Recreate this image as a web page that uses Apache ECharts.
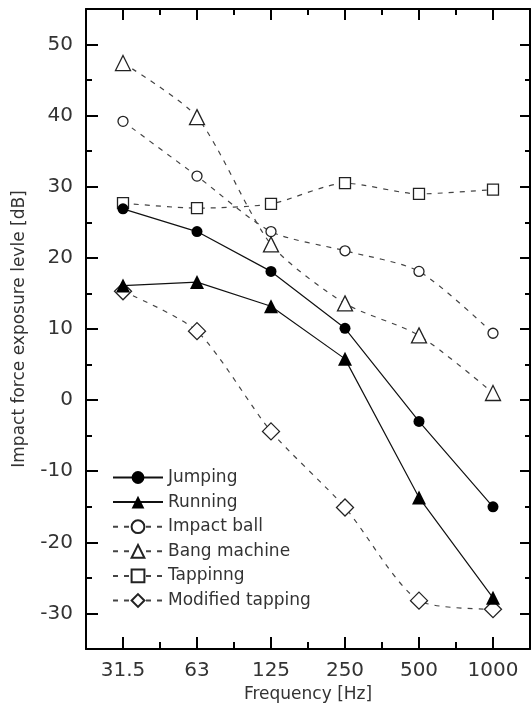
<!DOCTYPE html>
<html>
<head>
<meta charset="utf-8">
<script src="https://cdn.jsdelivr.net/npm/echarts@6/dist/echarts.min.js"></script>
<style>
  html, body { margin: 0; padding: 0; background: #fff; }
  #chart { width: 531px; height: 712px; }
</style>
</head>
<body>
<div id="chart"></div>
<script>
// values
const freqs = ['31.5', '63', '125', '250', '500', '1000'];
const jumping = [26.9, 23.7, 18.1, 10.1, -3.0, -15.0];
const running = [16.1, 16.6, 13.2, 5.8, -13.7, -27.8];
const impactBall = [39.2, 31.5, 23.7, 21.0, 18.1, 9.4];
const bangMachine = [47.4, 39.8, 21.9, 13.6, 9.1, 1.0];
const tapping = [27.7, 27.0, 27.6, 30.5, 29.0, 29.6];
const modifiedTapping = [15.3, 9.7, -4.4, -15.1, -28.2, -29.4];
const yMajor = [-30, -20, -10, 0, 10, 20, 30, 40, 50];
const yMinor = [-25, -15, -5, 5, 15, 25, 35, 45];

const font = 'DejaVu Sans';
const ink = '#000';
const txt = '#333';

let myChart = echarts.init(document.getElementById('chart'));

function xAx(pos, len, major, extra) {
  return Object.assign({
    type: 'category',
    position: pos,
    data: freqs,
    boundaryGap: true,
    axisLine: { show: major, onZero: false, lineStyle: { color: ink, width: 2 } },
    axisTick: { show: true, inside: true, length: len, alignWithLabel: major, lineStyle: { color: ink, width: 2 } },
    axisLabel: { show: false },
    splitLine: { show: false }
  }, extra || {});
}

function yAx(pos, len, ticks, major, extra) {
  return Object.assign({
    type: 'value',
    position: pos,
    min: -35,
    max: 55,
    axisLine: { show: major, onZero: false, lineStyle: { color: ink, width: 2 } },
    axisTick: { show: true, inside: true, length: len, customValues: ticks, lineStyle: { color: ink, width: 2 } },
    axisLabel: { show: false },
    splitLine: { show: false }
  }, extra || {});
}

function line(name, data, symbol, size, filled, dashed) {
  return {
    name: name,
    type: 'line',
    data: data,
    symbol: symbol,
    symbolSize: size,
    smooth: dashed ? 0.25 : false,
    showAllSymbol: true,
    lineStyle: { color: dashed ? '#444' : '#111', width: 1.2, type: dashed ? [5, 6] : 'solid' },
    itemStyle: { color: filled ? '#000' : '#fff', borderColor: '#222', borderWidth: filled ? 0 : 1.3 },
    z: filled ? 3 : 2,
    animation: false
  };
}

const option = {
  backgroundColor: '#fff',
  animation: false,
  grid: { left: 86, right: 1, top: 9, bottom: 63 },
  legend: {
    orient: 'vertical',
    left: 112,
    top: 469,
    padding: 0,
    itemWidth: 50,
    itemHeight: 16,
    itemGap: 7.6,
    textStyle: { fontFamily: font, fontSize: 17, color: txt, lineHeight: 16 },
    data: ['Jumping', 'Running', 'Impact ball', 'Bang machine', 'Tappinng', 'Modified tapping']
  },
  xAxis: [
    xAx('bottom', 12, true, {
      axisLabel: { show: true, fontFamily: font, fontSize: 20, color: txt, margin: 12 },
      name: 'Frequency [Hz]',
      nameLocation: 'middle',
      nameGap: 33,
      nameTextStyle: { fontFamily: font, fontSize: 17, color: txt }
    }),
    xAx('bottom', 7, false),
    xAx('top', 11, true),
    xAx('top', 6, false)
  ],
  yAxis: [
    yAx('left', 12, yMajor, true, {
      axisLabel: { show: true, customValues: yMajor, fontFamily: font, fontSize: 20, color: txt, margin: 13 },
      name: 'Impact force exposure levle [dB]',
      nameLocation: 'middle',
      nameGap: 58,
      nameTextStyle: { fontFamily: font, fontSize: 17, color: txt }
    }),
    yAx('left', 6, yMinor, false),
    yAx('right', 10, yMajor, true),
    yAx('right', 5, yMinor, false)
  ],
  series: [
    line('Jumping', jumping, 'circle', 11, true, false),
    line('Running', running, 'triangle', 14, true, false),
    line('Impact ball', impactBall, 'circle', 10, false, true),
    line('Bang machine', bangMachine, 'triangle', 15, false, true),
    line('Tappinng', tapping, 'rect', 11, false, true),
    line('Modified tapping', modifiedTapping, 'diamond', [17, 17], false, true)
  ]
};

myChart.setOption(option);
</script>
</body>
</html>
